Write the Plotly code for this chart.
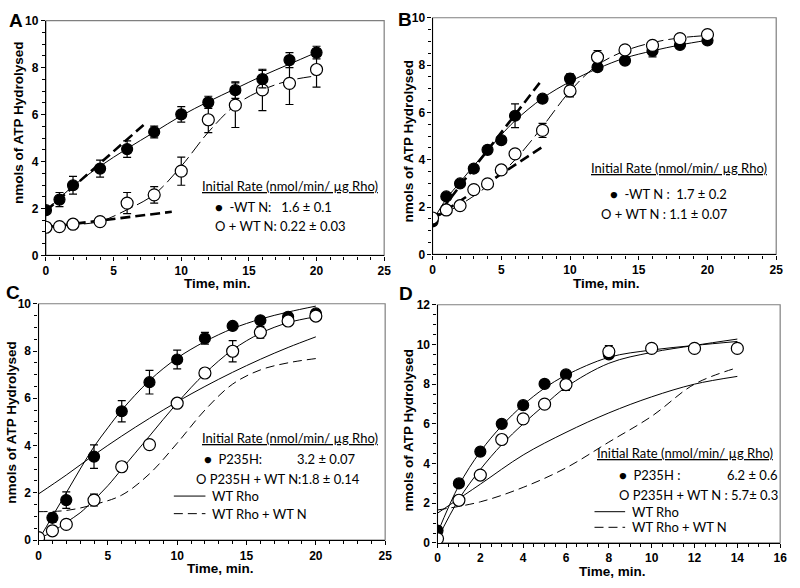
import plotly.graph_objects as go

# ---------------- Panel A data ----------------
a_t = [0, 1, 2, 4, 6, 8, 10, 12, 14, 16, 18, 20]
a_wt = [1.93, 2.38, 2.99, 3.70, 4.53, 5.26, 6.01, 6.52, 7.04, 7.51, 8.32, 8.64]
a_wt_err = [0.1, 0.3, 0.38, 0.36, 0.35, 0.25, 0.33, 0.26, 0.35, 0.37, 0.32, 0.27]
a_wtn = [1.20, 1.23, 1.33, 1.44, 2.23, 2.58, 3.59, 5.78, 6.40, 7.05, 7.33, 7.92]
a_wtn_err = [0.05, 0.05, 0.05, 0.05, 0.45, 0.35, 0.6, 0.55, 0.95, 0.88, 0.9, 0.75]
a_fit_t = [0, 2, 4, 6, 8, 10, 12, 14, 16, 18, 20]
a_wt_fit = [1.9, 2.95, 3.8, 4.55, 5.25, 5.95, 6.55, 7.1, 7.65, 8.15, 8.65]
a_wtn_fit = [1.2, 1.3, 1.45, 1.95, 2.6, 3.8, 5.25, 6.4, 7.05, 7.45, 7.65]
a_wt_rate_t = [0, 7.3]
a_wt_rate = [1.9, 5.6]
a_wtn_rate_t = [0, 9.3]
a_wtn_rate = [1.2, 1.86]

# ---------------- Panel B data ----------------
b_t = [0, 1, 2, 3, 4, 5, 6, 8, 10, 12, 14, 16, 18, 20]
b_wt = [1.40, 2.45, 3.0, 3.63, 4.42, 4.83, 5.86, 6.58, 7.43, 7.91, 8.19, 8.6, 8.85, 9.04]
b_wt_err = [0.1, 0.1, 0.1, 0.1, 0.15, 0.1, 0.5, 0.15, 0.2, 0.15, 0.1, 0.25, 0.15, 0.1]
b_wtn = [1.54, 1.88, 2.06, 2.74, 2.98, 3.57, 4.25, 5.24, 6.91, 8.33, 8.64, 8.83, 9.12, 9.29]
b_wtn_err = [0.05, 0.05, 0.05, 0.05, 0.05, 0.05, 0.05, 0.3, 0.25, 0.28, 0.1, 0.1, 0.1, 0.05]
b_wt_fit_t = [0, 1, 2, 3, 4, 5, 6, 8, 10, 12, 14, 16, 18, 20]
b_wt_fit = [1.4, 2.35, 3.05, 3.75, 4.4, 5.05, 5.65, 6.6, 7.3, 7.85, 8.3, 8.6, 8.85, 9.05]
b_wtn_fit_t = [0, 2, 4, 6, 8, 10, 12, 14, 16, 18, 20]
b_wtn_fit = [1.5, 2.1, 2.9, 4.0, 5.4, 6.9, 8.0, 8.6, 8.95, 9.15, 9.25]
b_wt_rate_t = [0, 7.9]
b_wt_rate = [1.4, 7.33]
b_wtn_rate_t = [0, 8.2]
b_wtn_rate = [1.5, 4.62]

# ---------------- Panel C data ----------------
c_t = [0, 1, 2, 4, 6, 8, 10, 12, 14, 16, 18, 20]
c_p = [0.05, 0.94, 1.69, 3.53, 5.45, 6.68, 7.64, 8.54, 9.06, 9.30, 9.45, 9.59]
c_p_err = [0.05, 0.2, 0.35, 0.5, 0.45, 0.5, 0.4, 0.25, 0.1, 0.1, 0.1, 0.1]
c_pn = [0.1, 0.39, 0.66, 1.69, 3.10, 4.04, 5.79, 7.07, 7.99, 8.79, 9.27, 9.48]
c_pn_err = [0.05, 0.05, 0.05, 0.25, 0.2, 0.1, 0.1, 0.1, 0.45, 0.25, 0.15, 0.1]
c_fit_t = [0, 1, 2, 3, 4, 5, 6, 8, 10, 12, 14, 16, 18, 20]
c_p_fit = [0.0, 1.0, 2.0, 3.0, 3.95, 4.75, 5.5, 6.75, 7.7, 8.4, 8.95, 9.35, 9.65, 9.9]
c_pn_fit = [0.05, 0.35, 0.75, 1.15, 1.7, 2.3, 3.0, 4.4, 5.8, 7.05, 8.05, 8.75, 9.2, 9.45]
c_ref_t = [0, 2, 4, 6, 8, 10, 12, 14, 16, 18, 20]
c_wt_ref = [1.95, 2.75, 3.6, 4.4, 5.15, 5.85, 6.5, 7.1, 7.65, 8.15, 8.6]
c_wtn_ref = [1.2, 1.25, 1.5, 1.9, 2.8, 4.1, 5.5, 6.6, 7.2, 7.5, 7.68]

# ---------------- Panel D data ----------------
d_t = [0, 1, 2, 3, 4, 5, 6, 8]
d_p = [0.62, 3.0, 4.6, 6.0, 6.94, 8.01, 8.49, 9.5]
d_p_err = [0.05, 0.1, 0.1, 0.1, 0.1, 0.1, 0.1, 0.2]
d_tn = [0, 1, 2, 3, 4, 5, 6, 8, 10, 12, 14]
d_pn = [0.22, 2.15, 3.42, 5.21, 6.25, 6.99, 7.98, 9.64, 9.80, 9.80, 9.80]
d_pn_err = [0.05, 0.1, 0.1, 0.1, 0.1, 0.1, 0.3, 0.3, 0.1, 0.1, 0.1]
d_fit_t = [0, 1, 2, 3, 4, 5, 6, 8, 10, 12, 14]
d_p_fit = [0.5, 2.9, 4.6, 5.9, 6.95, 7.8, 8.45, 9.35, 9.72, 9.95, 10.15]
d_pn_fit = [0.2, 2.2, 3.7, 4.95, 6.0, 6.95, 7.85, 9.05, 9.6, 9.95, 10.27]
d_ref_t = [0, 2, 4, 6, 8, 10, 12, 14]
d_wt_ref = [1.5, 2.96, 4.43, 5.57, 6.55, 7.36, 8.0, 8.39]
d_wtn_ref = [1.66, 2.07, 2.8, 3.78, 5.08, 6.38, 8.0, 8.83]

# ---------------- text ----------------
header = "Initial Rate (nmol/min/ µg Rho)"
a_leg = ["●  -WT N:   1.6 ± 0.1", "O + WT N: 0.22 ± 0.03"]
b_leg = ["●  -WT N :  1.7 ± 0.2", "O + WT N : 1.1 ± 0.07"]
c_leg = ["●  P235H:", "3.2 ± 0.07", "O P235H + WT N:1.8 ± 0.14", "WT Rho", "WT Rho + WT N"]
d_leg = ["●  P235H :", "6.2 ± 0.6", "O P235H + WT N : 5.7± 0.3", "WT Rho", "WT Rho + WT N"]

W, H = 800, 588
def px(x):
    return x / W
def py(y):
    return 1 - y / H

fig = go.Figure()

BLACK = "black"

def curve(t, y, ax, dash="solid", width=1.0):
    fig.add_trace(go.Scatter(x=t, y=y, mode="lines", xaxis=ax[0], yaxis=ax[1],
                             line=dict(color=BLACK, width=width, dash=dash, shape="spline", smoothing=1.0),
                             showlegend=False, hoverinfo="skip"))

def rate(t, y, ax):
    fig.add_trace(go.Scatter(x=t, y=y, mode="lines", xaxis=ax[0], yaxis=ax[1],
                             line=dict(color=BLACK, width=2.6, dash="10px,5px"),
                             showlegend=False, hoverinfo="skip"))

def points(t, y, err, ax, filled):
    fig.add_trace(go.Scatter(x=t, y=y, mode="markers", xaxis=ax[0], yaxis=ax[1],
                             error_y=dict(type="data", array=err, visible=True, color=BLACK,
                                          thickness=1.2, width=4),
                             marker=dict(symbol="circle", size=11 if filled else 12,
                                         color=BLACK if filled else "white",
                                         line=dict(color=BLACK, width=1.2)),
                             showlegend=False))

A = ("x", "y"); B = ("x2", "y2"); C = ("x3", "y3"); D = ("x4", "y4")

# Panel A
curve(a_fit_t, a_wt_fit, A)
curve(a_fit_t, a_wtn_fit, A, dash="14px,5px")
rate(a_wt_rate_t, a_wt_rate, A)
rate(a_wtn_rate_t, a_wtn_rate, A)
points(a_t, a_wtn, a_wtn_err, A, False)
points(a_t, a_wt, a_wt_err, A, True)

# Panel B
curve(b_wt_fit_t, b_wt_fit, B)
curve(b_wtn_fit_t, b_wtn_fit, B, dash="14px,5px")
rate(b_wt_rate_t, b_wt_rate, B)
rate(b_wtn_rate_t, b_wtn_rate, B)
points(b_t, b_wt, b_wt_err, B, True)
points(b_t, b_wtn, b_wtn_err, B, False)

# Panel C
curve(c_ref_t, c_wt_ref, C)
curve(c_ref_t, c_wtn_ref, C, dash="9px,5px")
curve(c_fit_t, c_p_fit, C)
curve(c_fit_t, c_pn_fit, C)
points(c_t, c_p, c_p_err, C, True)
points(c_t, c_pn, c_pn_err, C, False)

# Panel D
curve(d_ref_t, d_wt_ref, D)
curve(d_ref_t, d_wtn_ref, D, dash="9px,5px")
curve(d_fit_t, d_p_fit, D)
curve(d_fit_t, d_pn_fit, D)
points(d_t, d_p, d_p_err, D, True)
points(d_tn, d_pn, d_pn_err, D, False)

TICKFONT = dict(family="Liberation Sans, Arial", size=12, color=BLACK, weight="bold")

def axis(domain, anchor, rng, dtick, minor):
    return dict(domain=domain, anchor=anchor, range=rng, dtick=dtick, tick0=0,
                showline=True, linecolor=BLACK, linewidth=1.2, ticks="outside", ticklen=4,
                tickcolor=BLACK, tickwidth=1, tickfont=TICKFONT, showgrid=False, zeroline=False,
                minor=dict(dtick=minor, ticks="outside", ticklen=3, tickcolor=BLACK, showgrid=False),
                fixedrange=True)

dom = {
    "A": ([px(43.5), px(386)], [py(254.5), py(14)]),
    "B": ([px(435), px(783)], [py(253.5), py(11)]),
    "C": ([px(36), px(387)], [py(546), py(304)]),
    "D": ([px(440), px(787)], [py(549), py(305)]),
}

fig.update_layout(
    width=W, height=H, margin=dict(l=0, r=0, t=0, b=0),
    paper_bgcolor="white", plot_bgcolor="white", showlegend=False,
    xaxis=axis(dom["A"][0], "y", [0, 25], 5, 1),
    yaxis=axis(dom["A"][1], "x", [0, 10], 2, 0.5),
    xaxis2=axis(dom["B"][0], "y2", [0, 25], 5, 1),
    yaxis2=axis(dom["B"][1], "x2", [0, 10], 2, 0.5),
    xaxis3=axis(dom["C"][0], "y3", [0, 25], 5, 1),
    yaxis3=axis(dom["C"][1], "x3", [0, 10], 2, 0.5),
    xaxis4=axis(dom["D"][0], "y4", [0, 16], 2, 0.5),
    yaxis4=axis(dom["D"][1], "x4", [0, 12], 2, 0.5),
)

shapes = []
# gray frames
for xr, yr in (("x", "y"), ("x2", "y2"), ("x3", "y3"), ("x4", "y4")):
    shapes.append(dict(type="rect", xref=xr + " domain", yref=yr + " domain", x0=0, x1=1, y0=0, y1=1,
                       line=dict(color="#7f7f7f", width=1.2), layer="below"))

ann = []
LEGFONT = dict(family="Lato, Carlito, sans-serif", size=13, color=BLACK)
def text(x, y, s, font=LEGFONT, xanchor="left", angle=0):
    ann.append(dict(xref="paper", yref="paper", x=px(x), y=py(y), text=s, showarrow=False,
                    xanchor=xanchor, yanchor="middle", font=font, textangle=angle))

TITLEFONT = dict(family="Liberation Sans, Arial", size=13.5, color=BLACK, weight="bold")
LETTERFONT = dict(family="Liberation Sans, Arial", size=19, color=BLACK, weight="bold")

# panel letters
text(4, 14, "A", LETTERFONT)
text(398, 13, "B", LETTERFONT)
text(1, 292, "C", LETTERFONT)
text(399, 293, "D", LETTERFONT)

# axis titles
text(15, 118, "nmols of ATP Hydrolysed", TITLEFONT, "center", -90)
text(217, 283, "Time, min.", TITLEFONT, "center")
text(411, 137, "nmols of ATP Hydrolysed", TITLEFONT, "center", -90)
text(611, 283, "Time, min.", TITLEFONT, "center")
text(9, 425, "nmols of ATP Hydrolysed", TITLEFONT, "center", -90)
text(220, 575, "Time, min.", TITLEFONT, "center")
text(411, 433, "nmols of ATP Hydrolysed", TITLEFONT, "center", -90)
text(617, 578, "Time, min.", TITLEFONT, "center")

# legends A
text(199, 183, "<u>" + header + "</u>")
text(213, 205, a_leg[0])
text(213, 224, a_leg[1])
# legends B
text(593, 165, "<u>" + header + "</u>")
text(613, 192, b_leg[0])
text(604, 212, b_leg[1])
# legends C
text(199, 442, "<u>" + header + "</u>")
text(202, 463, c_leg[0])
text(358, 463, c_leg[1], xanchor="right")
text(193, 483, c_leg[2])
text(210, 501, c_leg[3])
text(210, 519, c_leg[4])
# legends D
text(599, 457, "<u>" + header + "</u>")
text(622, 479, d_leg[0])
text(787, 479, d_leg[1], xanchor="right")
text(622, 500, d_leg[2])
text(635, 517, d_leg[3])
text(635, 533, d_leg[4])

# legend line samples
for (x0, x1, y, dash) in ((173, 205, 501, "solid"), (173, 205, 519, "9px,5px"),
                          (599, 630, 517, "solid"), (599, 630, 533, "9px,5px")):
    shapes.append(dict(type="line", xref="paper", yref="paper", x0=px(x0), x1=px(x1), y0=py(y), y1=py(y),
                       line=dict(color=BLACK, width=1, dash=dash)))

fig.update_layout(annotations=ann, shapes=shapes)
fig.write_html("out.html", config={"displayModeBar": False},
               post_script="document.body.style.margin='0';document.body.style.padding='0';")
